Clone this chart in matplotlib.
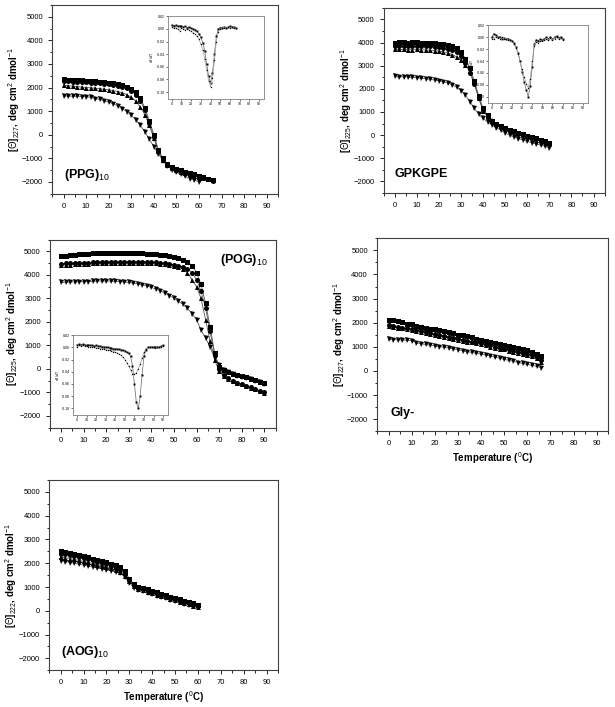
import matplotlib
matplotlib.use("Agg")
import matplotlib.pyplot as plt
from matplotlib.ticker import MultipleLocator

plt.rcParams['font.family'] = ['Liberation Sans', 'DejaVu Sans']
plt.rcParams['mathtext.fontset'] = 'custom'
plt.rcParams['mathtext.rm'] = 'Liberation Sans'
plt.rcParams['mathtext.bf'] = 'Liberation Sans:bold'

################# Data ################

# (PPG)10
ppg_t = [0, 2, 4, 6, 8, 10, 12, 14, 16, 18, 20, 22, 24, 26, 28, 30, 32, 34,
         36, 38, 40, 42, 44, 46, 48, 50, 52, 54, 56, 58, 60, 62, 64, 66]
ppg_sq = [2350, 2330, 2320, 2310, 2300, 2290, 2280, 2270, 2250, 2230, 2210, 2190,
          2150, 2100, 2040, 1950, 1800, 1550, 1150, 600, 0, -650, -1000, -1250,
          -1380, -1450, -1510, -1570, -1630, -1680, -1730, -1800, -1860, -1930]
ppg_ci = [2270, 2260, 2250, 2240, 2230, 2220, 2210, 2200, 2180, 2160, 2140, 2120,
          2080, 2030, 1960, 1860, 1700, 1450, 1050, 500, -80, -700, -1050, -1280,
          -1400, -1470, -1530, -1590, -1650, -1700, -1760, -1820, -1880, -1950]
ppg_up = [2100, 2080, 2060, 2040, 2020, 2000, 1990, 1970, 1950, 1930, 1900, 1870,
          1830, 1780, 1700, 1590, 1420, 1180, 850, 400, -150, -700, -1050, -1280,
          -1420, -1500, -1560, -1620, -1680, -1730, -1780, -1830, -1880, -1930]
ppg_dn_t = [0, 2, 4, 6, 8, 10, 12, 14, 16, 18, 20, 22, 24, 26, 28, 30, 32, 34,
            36, 38, 40, 42, 44, 46, 48, 50, 52, 54, 56, 58, 60]
ppg_dn = [1640, 1640, 1630, 1630, 1620, 1610, 1590, 1530, 1500, 1440, 1380, 1310,
          1220, 1110, 980, 820, 630, 400, 130, -200, -500, -800, -1100, -1320,
          -1480, -1600, -1680, -1770, -1860, -1930, -1990]

# (PPG)10 inset, d[theta]/dT
ppg_in_t = ppg_t
ppg_in_a = [0.006, 0.005, 0.006, 0.004, 0.005, 0.004, 0.003, 0.004, 0.002, 0.003,
            0.001, 0.000, -0.001, -0.004, -0.008, -0.013, -0.022, -0.035, -0.055,
            -0.075, -0.085, -0.070, -0.040, -0.012, 0.000, 0.002, 0.002, 0.003,
            0.002, 0.003, 0.004, 0.003, 0.003, 0.002]
ppg_in_b = [0.003, 0.001, 0.002, 0.000, -0.003, 0.001, 0.000, -0.002, 0.000, -0.002,
            -0.004, -0.006, -0.008, -0.012, -0.016, -0.024, -0.034, -0.048, -0.065,
            -0.082, -0.092, -0.078, -0.050, -0.020, -0.005, 0.000, 0.001, 0.002,
            0.001, 0.003, 0.002, 0.003, 0.002, 0.001]

# GPKGPE
gpk_t = [0, 2, 4, 6, 8, 10, 12, 14, 16, 18, 20, 22, 24, 26, 28, 30, 32, 34,
         36, 38, 40, 42, 44, 46, 48, 50, 52, 54, 56, 58, 60, 62, 64, 66, 68, 70]
gpk_sq = [4000, 4020, 4010, 4000, 4010, 4020, 4000, 3990, 3980, 3960, 3950, 3930,
          3900, 3860, 3780, 3600, 3300, 2900, 2350, 1700, 1150, 850, 620, 480,
          380, 300, 240, 170, 100, 40, -20, -80, -140, -200, -260, -320]
gpk_ci = [3850, 3860, 3850, 3850, 3860, 3860, 3850, 3840, 3830, 3810, 3790, 3760,
          3720, 3670, 3580, 3400, 3100, 2700, 2200, 1600, 1100, 800, 580, 440,
          340, 260, 190, 120, 60, 0, -60, -120, -180, -240, -300, -380]
gpk_up = [3700, 3700, 3700, 3690, 3690, 3700, 3690, 3680, 3670, 3650, 3630, 3600,
          3550, 3480, 3380, 3250, 3050, 2750, 2300, 1600, 1050, 820, 640, 500,
          400, 310, 240, 170, 100, 40, -20, -80, -140, -200, -260, -320]
gpk_dn = [2540, 2500, 2530, 2510, 2490, 2480, 2460, 2440, 2410, 2380, 2350, 2300,
          2250, 2170, 2070, 1920, 1720, 1450, 1150, 900, 720, 580, 440, 320,
          200, 90, 0, -80, -150, -210, -270, -330, -380, -430, -480, -560]

gpk_in_t = gpk_t
gpk_in_a = [0.000, 0.006, 0.004, 0.000, 0.001, -0.002, -0.001, -0.003, -0.002, -0.004,
            -0.006, -0.010, -0.016, -0.026, -0.040, -0.058, -0.075, -0.088, -0.100,
            -0.082, -0.050, -0.012, -0.004, -0.006, -0.003, -0.005, -0.002, 0.000,
            -0.002, 0.001, -0.003, 0.000, 0.002, -0.001, 0.001, -0.002]
gpk_in_b = [-0.002, -0.003, 0.001, -0.001, -0.002, 0.000, -0.003, -0.002, -0.004, -0.005,
            -0.007, -0.012, -0.018, -0.028, -0.040, -0.054, -0.066, -0.078, -0.085,
            -0.070, -0.040, -0.014, -0.008, -0.010, -0.006, -0.007, -0.004, -0.002,
            -0.004, -0.001, -0.004, -0.002, 0.000, -0.003, -0.001, -0.004]

# (POG)10
pog_t = [0, 2, 4, 6, 8, 10, 12, 14, 16, 18, 20, 22, 24, 26, 28, 30, 32, 34, 36,
         38, 40, 42, 44, 46, 48, 50, 52, 54, 56, 58, 60, 62, 64, 66, 68, 70, 72,
         74, 76, 78, 80, 82, 84, 86, 88, 90]
pog_sq = [4800, 4820, 4840, 4860, 4880, 4900, 4910, 4920, 4930, 4940, 4950, 4950,
          4950, 4950, 4950, 4950, 4940, 4930, 4920, 4910, 4900, 4880, 4860, 4840,
          4800, 4760, 4710, 4640, 4550, 4400, 4100, 3600, 2800, 1800, 700, 100,
          -50, -120, -200, -250, -300, -360, -420, -480, -540, -600]
pog_ci = [4480, 4490, 4500, 4500, 4510, 4520, 4520, 4530, 4540, 4550, 4550, 4560,
          4560, 4560, 4560, 4560, 4560, 4560, 4550, 4550, 4540, 4530, 4510, 4490,
          4470, 4440, 4400, 4340, 4250, 4100, 3800, 3300, 2600, 1600, 600, 0,
          -250, -400, -500, -580, -650, -720, -780, -850, -920, -1000]
pog_up = [4420, 4430, 4440, 4450, 4460, 4470, 4480, 4490, 4490, 4500, 4500, 4510,
          4510, 4520, 4520, 4520, 4520, 4510, 4510, 4500, 4500, 4490, 4470, 4450,
          4420, 4380, 4330, 4250, 4100, 3800, 3500, 3000, 2100, 1200, 400, -100,
          -300, -420, -500, -580, -650, -720, -790, -860, -930, -1020]
pog_dn = [3680, 3690, 3700, 3700, 3710, 3720, 3720, 3730, 3740, 3740, 3740, 3740,
          3730, 3720, 3700, 3680, 3650, 3620, 3580, 3530, 3470, 3400, 3320, 3220,
          3120, 3000, 2870, 2750, 2580, 2350, 2100, 1650, 1300, 950, 450, 150,
          -50, -150, -220, -280, -330, -390, -440, -500, -560, -620]

pog_in_t = pog_t
pog_in_a = [0.004, 0.005, 0.004, 0.005, 0.004, 0.003, 0.004, 0.003, 0.003, 0.002,
            0.003, 0.002, 0.002, 0.001, 0.001, 0.000, 0.000, -0.001, -0.001, -0.002,
            -0.002, -0.003, -0.003, -0.004, -0.005, -0.006, -0.008, -0.010, -0.015,
            -0.030, -0.060, -0.090, -0.100, -0.080, -0.045, -0.015, -0.004, 0.000,
            0.000, 0.001, 0.000, 0.001, 0.000, 0.001, 0.002, 0.003]
pog_in_b = [0.000, 0.003, 0.002, 0.003, 0.002, 0.002, 0.001, 0.001, 0.000, 0.000,
            -0.001, -0.001, -0.002, -0.002, -0.003, -0.004, -0.004, -0.005, -0.006,
            -0.007, -0.008, -0.009, -0.011, -0.013, -0.016, -0.020, -0.025, -0.031,
            -0.037, -0.043, -0.044, -0.042, -0.036, -0.028, -0.018, -0.008, -0.002,
            0.000, 0.001, 0.000, 0.001, -0.001, 0.000, 0.001, 0.000, 0.002]

# Gly-
gly_t = [0, 2, 4, 6, 8, 10, 12, 14, 16, 18, 20, 22, 24, 26, 28, 30, 32, 34,
         36, 38, 40, 42, 44, 46, 48, 50, 52, 54, 56, 58, 60, 62, 64, 66]
gly_sq = [2120, 2100, 2060, 2010, 1960, 1930, 1880, 1840, 1790, 1750, 1720, 1680,
          1640, 1600, 1560, 1510, 1470, 1430, 1390, 1340, 1300, 1260, 1220, 1170,
          1130, 1080, 1040, 990, 950, 900, 850, 800, 720, 620]
gly_ci = [1900, 1870, 1840, 1800, 1760, 1730, 1690, 1650, 1610, 1570, 1540, 1500,
          1460, 1420, 1380, 1340, 1300, 1260, 1220, 1180, 1140, 1100, 1060, 1010,
          970, 930, 890, 840, 800, 760, 710, 660, 580, 460]
gly_up = [1850, 1820, 1790, 1760, 1720, 1690, 1650, 1610, 1570, 1530, 1490, 1460,
          1420, 1380, 1340, 1300, 1260, 1220, 1180, 1140, 1100, 1060, 1010, 970,
          930, 890, 840, 800, 760, 710, 660, 600, 520, 380]
gly_dn = [1320, 1300, 1290, 1280, 1270, 1260, 1160, 1130, 1100, 1070, 1040, 1010,
          980, 950, 920, 880, 840, 800, 770, 730, 700, 660, 620, 570,
          530, 480, 440, 400, 350, 310, 270, 230, 190, 140]

# (AOG)10
aog_t = [0, 2, 4, 6, 8, 10, 12, 14, 16, 18, 20, 22, 24, 26, 28, 30, 32, 34,
         36, 38, 40, 42, 44, 46, 48, 50, 52, 54, 56, 58, 60]
aog_sq = [2500, 2480, 2450, 2400, 2350, 2300, 2250, 2200, 2150, 2100, 2050, 1980,
          1920, 1860, 1680, 1350, 1120, 1000, 950, 900, 850, 780, 720, 650,
          600, 540, 490, 430, 380, 320, 260]
aog_ci = [2400, 2380, 2340, 2300, 2260, 2220, 2170, 2120, 2060, 2000, 1950, 1880,
          1820, 1740, 1560, 1300, 1080, 960, 900, 850, 790, 730, 670, 600,
          550, 490, 430, 380, 320, 260, 200]
aog_up = [2260, 2240, 2200, 2160, 2120, 2080, 2040, 1990, 1940, 1890, 1840, 1780,
          1720, 1650, 1480, 1250, 1040, 920, 860, 800, 740, 680, 620, 560,
          500, 450, 390, 340, 280, 220, 170]
aog_dn = [2100, 2070, 2030, 2000, 1960, 1920, 1880, 1840, 1800, 1760, 1720, 1680,
          1640, 1580, 1420, 1180, 980, 880, 820, 760, 700, 640, 580, 520,
          460, 410, 360, 300, 250, 190, 140]

panels = [
    # name, wavelength, series, axes rect, label pos, label ha, xlabel
    ("(PPG)$_{10}$", "227", (ppg_t, ppg_sq, ppg_ci, ppg_up, ppg_dn_t, ppg_dn),
     [0.085, 0.726, 0.367, 0.267], (0, -1700), 'left', False),
    ("GPKGPE", "225", (gpk_t, gpk_sq, gpk_ci, gpk_up, gpk_t, gpk_dn),
     [0.624, 0.727, 0.359, 0.262], (0, -1700), 'left', False),
    ("(POG)$_{10}$", "225", (pog_t, pog_sq, pog_ci, pog_up, pog_t, pog_dn),
     [0.081, 0.395, 0.367, 0.266], (81, 4650), 'center', False),
    ("Gly-", "227", (gly_t, gly_sq, gly_ci, gly_up, gly_t, gly_dn),
     [0.613, 0.390, 0.376, 0.273], (1, -1750), 'left', True),
    ("(AOG)$_{10}$", "222", (aog_t, aog_sq, aog_ci, aog_up, aog_t, aog_dn),
     [0.080, 0.052, 0.372, 0.269], (0, -1750), 'left', True),
]

insets = [
    (ppg_in_t, ppg_in_a, ppg_in_b, [0.273, 0.860, 0.156, 0.117]),
    (gpk_in_t, gpk_in_a, gpk_in_b, [0.793, 0.854, 0.163, 0.110]),
    (pog_in_t, pog_in_a, pog_in_b, [0.119, 0.413, 0.154, 0.113]),
]

fig = plt.figure(figsize=(6.15, 7.07), dpi=100)

for name, wl, (t, sq, ci, up, dn_t, dn), rect, lpos, lha, xlab in panels:
    ax = fig.add_axes(rect)
    for vals, tt, mk in [(sq, t, 's'), (ci, t, 'o'), (up, t, '^'), (dn, dn_t, 'v')]:
        ax.plot(tt, vals, color='0.35', lw=0.6, zorder=1)
        ax.plot(tt, vals, linestyle='none', marker=mk, ms=3.6, color='black',
                markeredgewidth=0, zorder=2)
    ax.set_xlim(-5, 95)
    ax.set_ylim(-2500, 5500)
    ax.xaxis.set_major_locator(MultipleLocator(10))
    ax.xaxis.set_minor_locator(MultipleLocator(5))
    ax.yaxis.set_minor_locator(MultipleLocator(500))
    ax.set_yticks(range(-2000, 5001, 1000))
    ax.tick_params(which='both', direction='out', labelsize=5.5, width=0.6)
    ax.tick_params(which='major', length=3)
    ax.tick_params(which='minor', length=1.8)
    for sp in ax.spines.values():
        sp.set_linewidth(0.8)
        sp.set_color('0.25')
    ax.set_ylabel(r'[$\Theta$]$_{' + wl + r'}$, deg cm$^2$ dmol$^{-1}$',
                  fontsize=7, fontweight='bold', labelpad=0)
    ax.text(lpos[0], lpos[1], name, fontsize=9, fontweight='bold', ha=lha, va='center')
    if xlab:
        ax.set_xlabel(r'Temperature ($^0$C)', fontsize=7, fontweight='bold', labelpad=2)

for t, a, b, rect in insets:
    ins = fig.add_axes(rect)
    ins.plot(t, a, color='0.4', lw=0.5, marker='s', ms=1.4, mfc='black', mec='black', mew=0)
    ins.plot(t, b, color='0.6', lw=0.5, marker='o', ms=1.0, mfc='black', mec='black', mew=0)
    ins.set_xlim(-4, 95)
    ins.set_ylim(-0.111, 0.02)
    ins.set_xticks(range(0, 91, 10))
    ins.set_yticks([0.02, 0.00, -0.02, -0.04, -0.06, -0.08, -0.10])
    ins.set_yticklabels(['0.02', '0.00', '-0.02', '-0.04', '-0.06', '-0.08', '-0.10'])
    ins.tick_params(direction='out', labelsize=2.5, length=1.2, width=0.4, pad=1)
    for sp in ins.spines.values():
        sp.set_linewidth(0.6)
        sp.set_color('0.5')
    ins.set_ylabel(r'd$\theta$/dT', fontsize=2.5, labelpad=1)

plt.savefig('out.png', dpi=100)
